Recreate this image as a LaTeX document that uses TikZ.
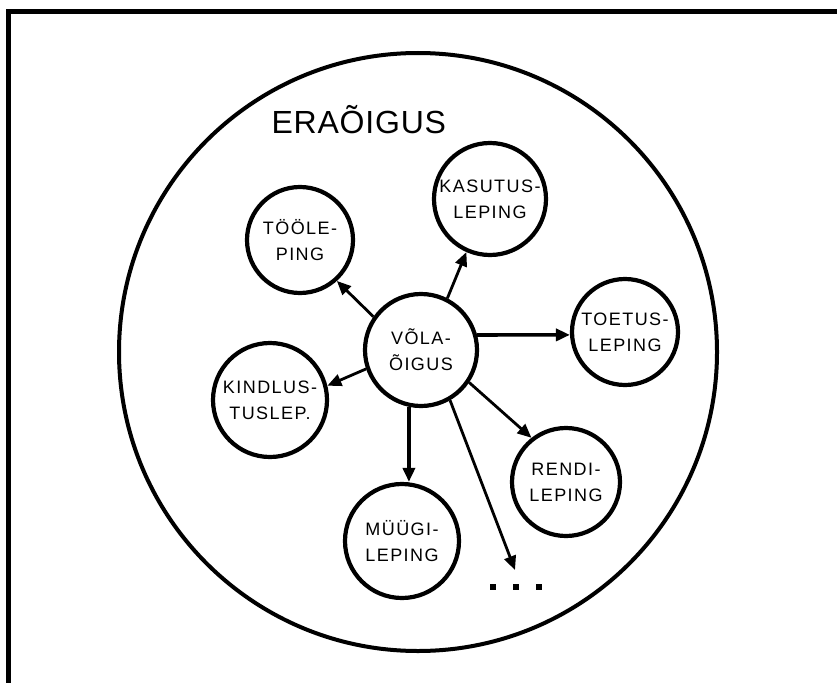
\documentclass[tikz,border=0pt]{standalone}
\usepackage{fontspec}
\setmainfont{Liberation Sans}
\newfontfamily\lblfont[LetterSpace=8]{Liberation Sans}
\newfontfamily\titlefont[LetterSpace=2.5]{Liberation Sans}
\usetikzlibrary{arrows.meta}
\begin{document}
\begin{tikzpicture}[x=1pt,y=-1pt,
  bubble/.style={circle,draw,line width=4.2pt,inner sep=0pt,align=center,
    font=\lblfont\fontsize{18}{26}\selectfont},
  arr/.style={line width=2.8pt,-{Triangle[length=14pt,width=12pt]}},
  thickarr/.style={line width=3.6pt,-{Triangle[length=14pt,width=12pt]}}]
\useasboundingbox (0,0) rectangle (837,682);
% frame (cropped)
\draw[line width=5pt] (8.5,684) -- (8.5,12) -- (839,12);
% big circle
\node[circle,draw,line width=4pt,minimum size=598pt,inner sep=0pt] (era) at (418,352) {};
\node[font=\titlefont\fontsize{32}{32}\selectfont,anchor=base west] (eratxt) at (268,133) {ERAÕIGUS};
% bubbles
\node[bubble,minimum size=112pt] (vola) at (421,350) {VÕLA-\\ÕIGUS};
\node[bubble,minimum size=106pt] (toole) at (300,240) {TÖÖLE-\\PING};
\node[bubble,minimum size=112pt] (kasutus) at (490,199) {KASUTUS-\\LEPING};
\node[bubble,minimum size=106pt] (toetus) at (625,332) {TOETUS-\\LEPING};
\node[bubble,minimum size=114pt] (kindlus) at (270,400) {KINDLUS-\\TUSLEP.};
\node[bubble,minimum size=108pt] (rendi) at (566,482) {RENDI-\\LEPING};
\node[bubble,minimum size=114pt] (muugi) at (402,541) {MÜÜGI-\\LEPING};
% connectors
\draw[arr] (vola.145) -- (toole.312);
\draw[arr] (vola.63) -- (kasutus.246);
\draw[thickarr] (vola.15) -- (toetus.183);
\draw[arr] (vola.199) -- (kindlus.14);
\draw[arr] (vola.326) -- (rendi.128);
\draw[thickarr] (vola.258) -- (vola.258 |- muugi.north);
\coordinate (dotsend) at (515,570);
\draw[arr] (vola.300) -- (dotsend);
% dots
\foreach \x in {493,516,539}
  \fill (\x-2.6,584.4) rectangle (\x+2.6,589.6);
\end{tikzpicture}
\end{document}
